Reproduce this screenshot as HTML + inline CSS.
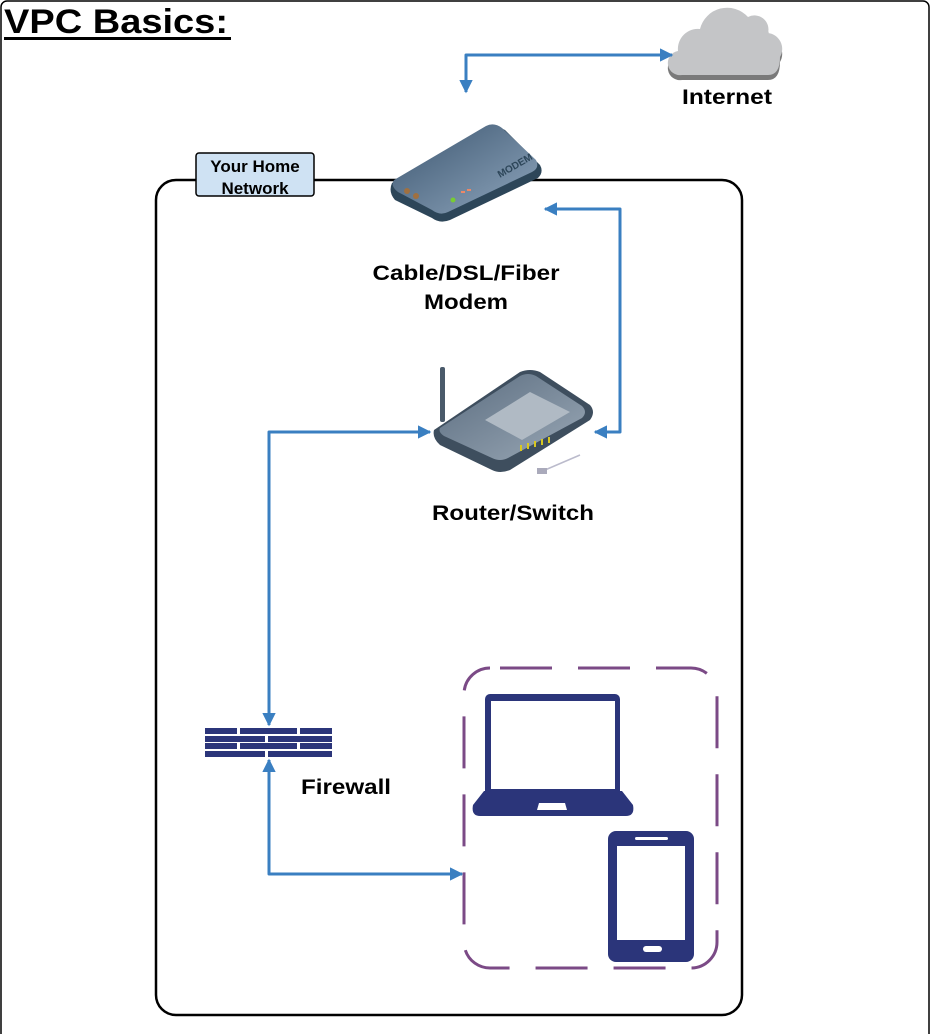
<!DOCTYPE html>
<html><head><style>
html,body{margin:0;padding:0;background:#fff;}
svg{display:block;}
text{font-family:"Liberation Sans",Arial,sans-serif;font-weight:700;}
</style></head><body>
<svg width="934" height="1034" viewBox="0 0 934 1034" xmlns="http://www.w3.org/2000/svg">
<defs>
<marker id="ah" viewBox="0 0 10 10" refX="9" refY="5" markerWidth="4.5" markerHeight="4.5" orient="auto-start-reverse" markerUnits="strokeWidth">
<path d="M0,0 L10,5 L0,10 z" fill="#3a7fc1"/></marker>
<linearGradient id="mg" x1="0" y1="0" x2="1" y2="1"><stop offset="0" stop-color="#3c5670"/><stop offset="1" stop-color="#8fa6bd"/></linearGradient>
<linearGradient id="rg" x1="0" y1="0" x2="1" y2="1"><stop offset="0" stop-color="#5b6d80"/><stop offset="1" stop-color="#9aa8b6"/></linearGradient>
</defs>
<rect x="1" y="1" width="928" height="1040" rx="6" fill="#fff" stroke="#000" stroke-width="1.5"/>
<text x="4" y="33" font-size="34" font-weight="bold" textLength="224" lengthAdjust="spacingAndGlyphs">VPC Basics:</text>
<rect x="4" y="37" width="227" height="3" fill="#000"/>

<rect x="156" y="180" width="586" height="835" rx="20" fill="none" stroke="#000" stroke-width="2.5"/>
<rect x="196" y="153" width="118" height="43" rx="3" fill="#cfe2f3" stroke="#000" stroke-width="1.5"/>
<text x="255" y="172" font-size="17" font-weight="bold" text-anchor="middle">Your Home</text>
<text x="255" y="194" font-size="17" font-weight="bold" text-anchor="middle">Network</text>

<!-- cloud -->
<g>
<path d="M682,80 a12,12 0 0 1 -4,-24 a20,20 0 0 1 22,-22 a28,28 0 0 1 48,-12 a14,14 0 0 1 20,16 a16,16 0 0 1 12,24 q0,18 -12,18z" fill="#7a7a7a"/>
<path d="M682,75 a12,12 0 0 1 -4,-24 a20,20 0 0 1 22,-22 a28,28 0 0 1 48,-12 a14,14 0 0 1 20,16 a16,16 0 0 1 12,24 q0,18 -12,18z" fill="#c4c5c7"/>
</g>
<text x="727" y="104" font-size="21" font-weight="bold" text-anchor="middle" textLength="90" lengthAdjust="spacingAndGlyphs">Internet</text>

<!-- modem -->
<g>
<path d="M392,183 L485,128 Q495,124 505,130 L540,165 Q544,172 538,178 L450,220 Q440,224 432,218 L395,200 Q388,192 392,183z" fill="#2d4659"/>
<path d="M394,180 L486,126 Q494,122 502,128 L536,160 Q540,168 532,172 L448,212 Q440,216 432,210 L398,192 Q390,186 394,180z" fill="url(#mg)"/>
<circle cx="407" cy="191" r="3" fill="#a07040"/><circle cx="416" cy="196" r="3" fill="#a07040"/>
<circle cx="453" cy="200" r="2.5" fill="#7c3"/>
<rect x="461" y="191" width="4" height="2" fill="#e86"/><rect x="467" y="189" width="4" height="2" fill="#e86"/>
<text x="500" y="178" font-size="10" fill="#2d4659" transform="rotate(-30 500 178)">MODEM</text>
</g>
<text x="466" y="280" font-size="21" font-weight="bold" text-anchor="middle" textLength="187" lengthAdjust="spacingAndGlyphs">Cable/DSL/Fiber</text>
<text x="466" y="309" font-size="21" font-weight="bold" text-anchor="middle" textLength="84" lengthAdjust="spacingAndGlyphs">Modem</text>

<!-- router -->
<g>
<rect x="440" y="367" width="5" height="55" rx="2" fill="#4a5a6a"/>
<path d="M434,430 L520,372 Q530,368 540,372 L590,405 Q596,412 590,420 L510,470 Q500,474 492,470 L440,445 Q432,438 434,430z" fill="#3e4e5e"/>
<path d="M440,428 L520,376 Q528,372 536,376 L582,406 Q588,412 582,418 L508,458 Q500,462 492,458 L444,436 Q438,432 440,428z" fill="url(#rg)"/>
<path d="M485,420 L530,392 L570,412 L522,440z" fill="#b0bac4"/>
<g fill="#d8c820"><rect x="520" y="445" width="2" height="6"/><rect x="527" y="443" width="2" height="6"/><rect x="534" y="441" width="2" height="6"/><rect x="541" y="439" width="2" height="6"/><rect x="548" y="437" width="2" height="6"/></g>
<path d="M545,470 L580,455" stroke="#bbc" stroke-width="1.5"/>
<rect x="537" y="468" width="10" height="6" fill="#aab"/>
</g>
<text x="513" y="520" font-size="21" font-weight="bold" text-anchor="middle" textLength="162" lengthAdjust="spacingAndGlyphs">Router/Switch</text>

<!-- firewall -->
<g fill="#2b357a">
<rect x="205" y="728" width="32" height="6"/><rect x="240" y="728" width="57" height="6"/><rect x="300" y="728" width="32" height="6"/>
<rect x="205" y="736" width="60" height="6"/><rect x="268" y="736" width="64" height="6"/>
<rect x="205" y="743" width="32" height="6"/><rect x="240" y="743" width="57" height="6"/><rect x="300" y="743" width="32" height="6"/>
<rect x="205" y="751" width="60" height="6"/><rect x="268" y="751" width="64" height="6"/>
</g>
<text x="346" y="794" font-size="21" font-weight="bold" text-anchor="middle" textLength="90" lengthAdjust="spacingAndGlyphs">Firewall</text>

<!-- devices box -->
<rect x="464" y="668" width="253" height="300" rx="26" fill="none" stroke="#7b4a86" stroke-width="3" stroke-dasharray="52,26" stroke-dashoffset="-10"/>
<rect x="485" y="694" width="135" height="102" rx="5" fill="#2b357a"/>
<rect x="491" y="701" width="124" height="88" fill="#fff"/>
<path d="M484,791 L622,791 L633,805 Q635,816 626,816 L480,816 Q471,816 473,805z" fill="#2b357a"/>
<path d="M539,803 L565,803 L567,810 L537,810z" fill="#fff"/>
<rect x="608" y="831" width="86" height="131" rx="8" fill="#2b357a"/>
<rect x="617" y="846" width="68" height="94" fill="#fff"/>
<rect x="635" y="837" width="33" height="3" rx="1.5" fill="#fff"/>
<rect x="643" y="946" width="19" height="6" rx="3" fill="#fff"/>

<!-- connectors -->
<g fill="none" stroke="#3a7fc1" stroke-width="3" stroke-linejoin="round">
<path d="M466,92 L466,55 L672,55" marker-start="url(#ah)" marker-end="url(#ah)"/>
<path d="M545,209 L620,209 L620,432 L595,432" marker-start="url(#ah)" marker-end="url(#ah)"/>
<path d="M430,432 L269,432 L269,725" marker-start="url(#ah)" marker-end="url(#ah)"/>
<path d="M269,760 L269,874 L462,874" marker-start="url(#ah)" marker-end="url(#ah)"/>
</g>
</svg>
</body></html>
